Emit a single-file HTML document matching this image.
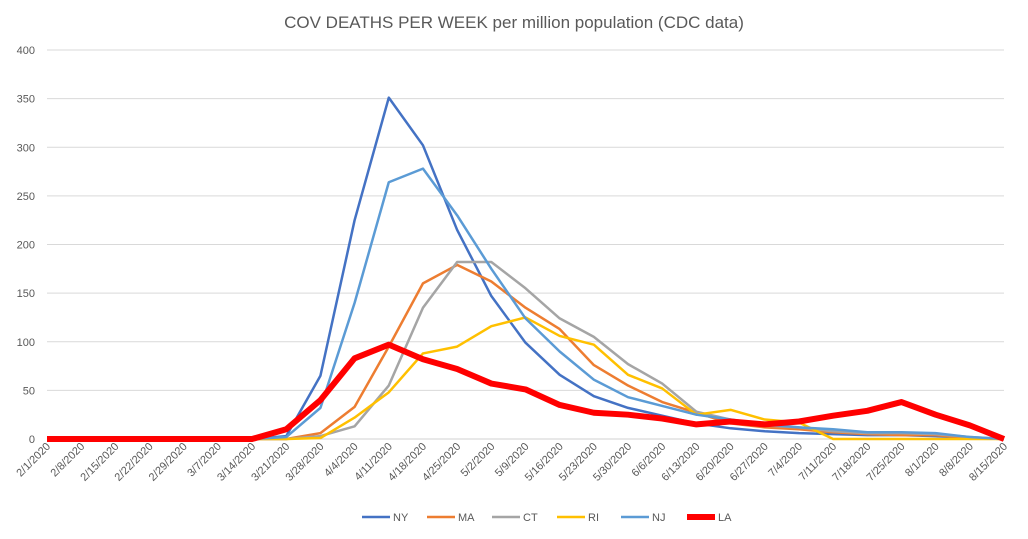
<!DOCTYPE html>
<html><head><meta charset="utf-8"><style>
html,body{margin:0;padding:0;background:#fff;}
svg text{font-family:"Liberation Sans",sans-serif;fill:#595959;}
</style></head><body>
<svg id="chart" width="1028" height="534">
<rect width="1028" height="534" fill="#fff"/>
<text x="514" y="28" text-anchor="middle" font-size="17">COV DEATHS PER WEEK per million population (CDC data)</text>
<g id="grid"></g><g id="xl"></g><g id="lines"></g><g id="legend"></g>
</svg>
<script>
const categories=["2/1/2020","2/8/2020","2/15/2020","2/22/2020","2/29/2020","3/7/2020","3/14/2020","3/21/2020","3/28/2020","4/4/2020","4/11/2020","4/18/2020","4/25/2020","5/2/2020","5/9/2020","5/16/2020","5/23/2020","5/30/2020","6/6/2020","6/13/2020","6/20/2020","6/27/2020","7/4/2020","7/11/2020","7/18/2020","7/25/2020","8/1/2020","8/8/2020","8/15/2020"];
const yTicks=[0,50,100,150,200,250,300,350,400];
const seriesNames=["NY","MA","CT","RI","NJ","LA"];
const seriesColors=["#4472c4","#ed7d31","#a5a5a5","#ffc000","#5b9bd5","#ff0000"];
const NY=[0,0,0,0,0,0,0,3,65,225,351,302,215,147,99,66,44,32,24,16,11,8,6,5,4,4,3,1,0];
const MA=[0,0,0,0,0,0,0,0,6,33,95,160,179,162,135,113,76,55,38,27,16,12,10,7,5,4,4,1,0];
const CT=[0,0,0,0,0,0,0,0,3,13,55,135,182,182,155,124,105,77,57,28,20,14,12,8,6,6,5,2,0];
const RI=[0,0,0,0,0,0,0,0,1,22,48,88,95,116,125,106,97,66,52,25,30,20,17,0,0,0,0,0,0];
const NJ=[0,0,0,0,0,0,0,2,32,140,264,278,230,175,124,90,61,43,34,25,20,15,12,10,7,7,6,2,0];
const LA=[0,0,0,0,0,0,0,10,40,83,97,82,72,57,51,35,27,25,21,15,18,15,18,24,29,38,25,14,0];
const seriesData=[NY,MA,CT,RI,NJ,LA];
const NS="http://www.w3.org/2000/svg";
const x0=47,x1=1004,y0=439,y1=50;
const xs=i=>x0+i*(x1-x0)/(categories.length-1);
const ys=v=>y0-v*(y0-y1)/400;
function mk(t,a,p){const e=document.createElementNS(NS,t);for(const k in a)e.setAttribute(k,a[k]);p.appendChild(e);return e;}
const grid=document.getElementById('grid');
yTicks.forEach(v=>{
  const l=mk('line',{x1:x0,x2:x1,y1:ys(v),y2:ys(v),stroke:v===0?'#d0d0d0':'#d9d9d9','stroke-width':1},grid);
  
  
  const t=mk('text',{x:35,y:ys(v)+4,'text-anchor':'end','font-size':11},grid);t.textContent=v;
  
  
});
const xl=document.getElementById('xl');
categories.forEach((c,i)=>{
  const x=xs(i)+4,y=447;
  const t=mk('text',{x:x,y:y,'text-anchor':'end','font-size':11,transform:`rotate(-45 ${x} ${y})`},xl);t.textContent=c;
  
  
});
const lines=document.getElementById('lines');
seriesData.forEach((d,s)=>{
  const p=mk('polyline',{points:d.map((v,i)=>xs(i)+','+ys(v)).join(' '),fill:'none',stroke:seriesColors[s],'stroke-width':seriesNames[s]==='LA'?6:2.5,'stroke-linejoin':'round'},lines);
  
  
});
const lg=document.getElementById('legend');
const lx=[362,427,492,557,621,687];
seriesNames.forEach((n,s)=>{
  const g=mk('g',{},lg);
  
  
  mk('line',{x1:lx[s],x2:lx[s]+28,y1:517,y2:517,stroke:seriesColors[s],'stroke-width':n==='LA'?6:2.5},g);
  const t=mk('text',{x:lx[s]+31,y:521,'font-size':11},g);t.textContent=n;
});
</script>
</body></html>
